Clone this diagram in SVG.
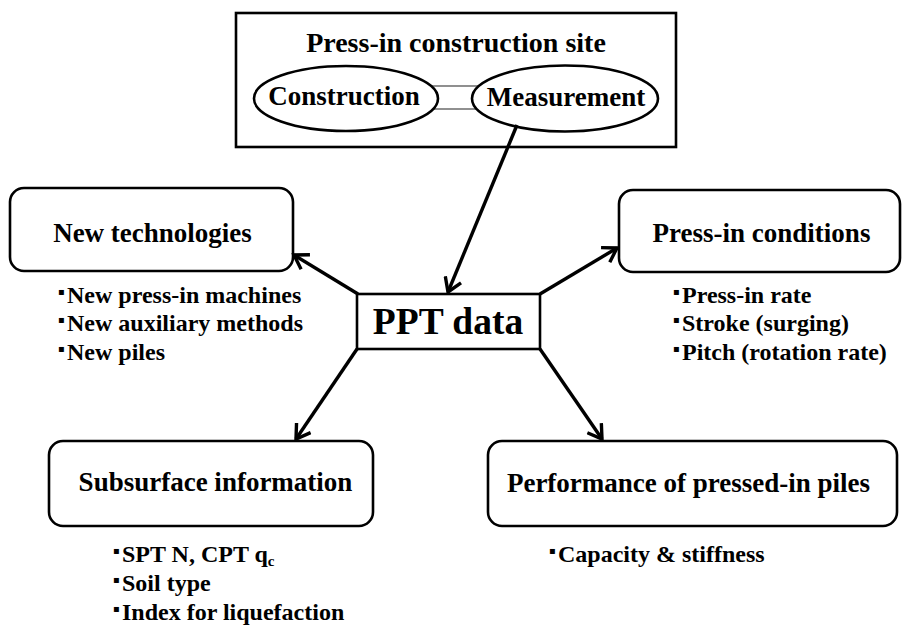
<svg xmlns="http://www.w3.org/2000/svg" width="902" height="625" viewBox="0 0 902 625">
<style>
.box{fill:#fff;stroke:#000;stroke-width:2.6}
.t{font-family:"Liberation Serif","Times New Roman",serif;font-weight:bold;fill:#000}
.h{font-size:27px;text-anchor:middle}
.s{font-size:24px}
.b{font-family:"DejaVu Sans",sans-serif;font-size:10px;font-weight:normal}
.arr{stroke:#000;stroke-width:3.4;fill:none;marker-end:url(#ah)}
</style>
<defs>
<marker id="ah" viewBox="0 0 18 20" refX="15" refY="10" markerWidth="18" markerHeight="20" markerUnits="userSpaceOnUse" orient="auto">
<path d="M1.5,1.5 L15,10 L1.5,18.5" fill="none" stroke="#000" stroke-width="3.4"/>
</marker>
</defs>
<rect width="902" height="625" fill="#fff"/>

<g id="site">
<rect class="box" x="236" y="13" width="440" height="134" stroke-width="3"/>
<text class="t" x="456" y="52" font-size="28" text-anchor="middle">Press-in construction site</text>
<rect x="420" y="86" width="70" height="23" fill="none" stroke="#555" stroke-width="1.3"/>
<g id="construction">
<ellipse class="box" cx="346" cy="98.5" rx="92" ry="32.5"/>
<text class="t h" x="344" y="105">Construction</text>
</g>
<g id="measurement">
<ellipse class="box" cx="565" cy="98.5" rx="93" ry="33"/>
<text class="t h" x="566" y="106">Measurement</text>
</g>
</g>

<g id="ppt">
<rect class="box" x="357" y="294" width="183" height="55"/>
<text class="t" x="448" y="334" font-size="37.5" text-anchor="middle">PPT data</text>
</g>

<g id="newtech">
<rect class="box" x="10" y="188" width="283" height="83" rx="14"/>
<text class="t h" x="152.5" y="242">New technologies</text>
<text class="t s" x="58" y="302.5"><tspan class="b" dy="-8">▪</tspan><tspan x="67" dy="8">New press-in machines</tspan></text>
<text class="t s" x="58" y="331"><tspan class="b" dy="-8">▪</tspan><tspan x="67" dy="8">New auxiliary methods</tspan></text>
<text class="t s" x="58" y="359.5"><tspan class="b" dy="-8">▪</tspan><tspan x="67" dy="8">New piles</tspan></text>
</g>

<g id="conditions">
<rect class="box" x="619" y="190" width="281" height="82" rx="14"/>
<text class="t h" x="761.5" y="242">Press-in conditions</text>
<text class="t s" x="673" y="302.5"><tspan class="b" dy="-8">▪</tspan><tspan x="682" dy="8">Press-in rate</tspan></text>
<text class="t s" x="673" y="331"><tspan class="b" dy="-8">▪</tspan><tspan x="682" dy="8">Stroke (surging)</tspan></text>
<text class="t s" x="673" y="359.5"><tspan class="b" dy="-8">▪</tspan><tspan x="682" dy="8">Pitch (rotation rate)</tspan></text>
</g>

<g id="subsurface">
<rect class="box" x="49" y="441" width="324" height="85" rx="14"/>
<text class="t h" x="215.5" y="491">Subsurface information</text>
<text class="t s" x="113" y="562"><tspan class="b" dy="-8">▪</tspan><tspan x="122" dy="8">SPT N, CPT q</tspan><tspan font-size="15" dy="4">c</tspan></text>
<text class="t s" x="113" y="591"><tspan class="b" dy="-8">▪</tspan><tspan x="122" dy="8">Soil type</tspan></text>
<text class="t s" x="113" y="620"><tspan class="b" dy="-8">▪</tspan><tspan x="122" dy="8">Index for liquefaction</tspan></text>
</g>

<g id="performance">
<rect class="box" x="488" y="441" width="409" height="85" rx="14"/>
<text class="t h" x="688.5" y="492">Performance of pressed-in piles</text>
<text class="t s" x="549" y="562"><tspan class="b" dy="-8">▪</tspan><tspan x="558" dy="8">Capacity &amp; stiffness</tspan></text>
</g>

<g id="connectors">
<line class="arr" x1="517" y1="125" x2="448" y2="292"/>
<line class="arr" x1="358" y1="294" x2="294" y2="255"/>
<line class="arr" x1="540" y1="294" x2="617" y2="248"/>
<line class="arr" x1="357" y1="349" x2="296" y2="439"/>
<line class="arr" x1="540" y1="349" x2="602" y2="439"/>
</g>
</svg>
